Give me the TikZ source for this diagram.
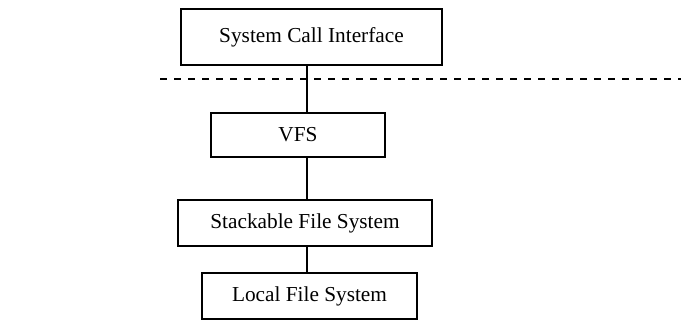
\documentclass[tikz,border=0pt]{standalone}
\usepackage{fontspec}
\setmainfont{Liberation Serif}
\begin{document}
\begin{tikzpicture}[x=1pt,y=-1pt,
  layerbox/.style={draw=black,line width=2pt,fill=white,inner sep=0pt,font=\fontsize{21.3}{25}\selectfont},
  link/.style={draw=black,line width=2pt}]
\useasboundingbox (0,0) rectangle (681,320);
\node[layerbox,minimum width=261,minimum height=56] (sci) at (311.5,37) {System Call Interface};
\node[layerbox,minimum width=174,minimum height=44] (vfs) at (298,135) {VFS};
\node[layerbox,minimum width=254,minimum height=46] (sfs) at (305,223) {Stackable File System};
\node[layerbox,minimum width=215,minimum height=46] (lfs) at (309.5,296) {Local File System};
\coordinate (dl) at (160,79.5);
\coordinate (dr) at (681,79.5);
\draw[line width=2pt,dash pattern=on 7pt off 7pt] (dl) -- (dr);
\draw[link] (sci.south -| 307,0) -- (vfs.north -| 307,0);
\draw[link] (vfs.south -| 307,0) -- (sfs.north -| 307,0);
\draw[link] (sfs.south -| 307,0) -- (lfs.north -| 307,0);
\end{tikzpicture}
\end{document}
